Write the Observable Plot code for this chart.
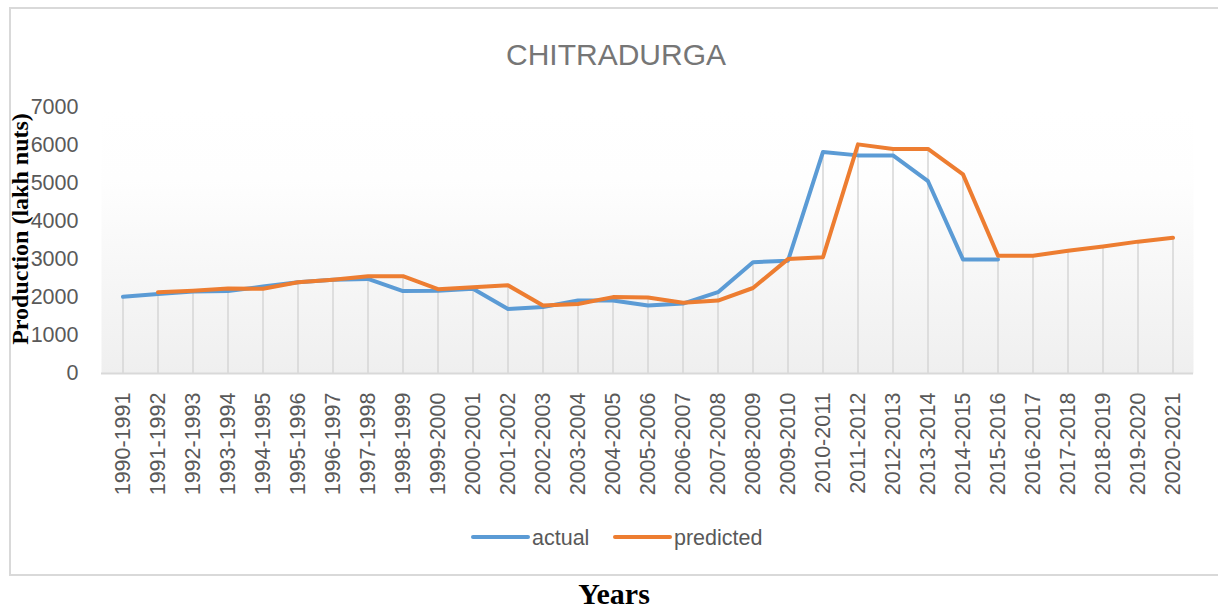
<!DOCTYPE html>
<html>
<head>
<meta charset="utf-8">
<script src="https://cdn.jsdelivr.net/npm/d3@7"></script>
<script src="https://cdn.jsdelivr.net/npm/@observablehq/plot@0.6"></script>
<style>
  html, body { margin: 0; padding: 0; background: #fff; }
  body { width: 1218px; height: 612px; overflow: hidden; position: relative; font-family: "Liberation Sans", Arial, sans-serif; }
  #frame { position: absolute; left: 9px; top: 7px; width: 1209px; height: 569px; box-sizing: border-box; border: 2px solid #d9d9d9; border-right: none; }
  #chart { position: absolute; left: 0; top: 0; }
  #overlay { position: absolute; left: 0; top: 0; pointer-events: none; }
</style>
</head>
<body>
<div id="frame"></div>
<div id="chart"></div>
<svg id="overlay" width="1218" height="612"></svg>
<script>
const categories = [
  "1990-1991","1991-1992","1992-1993","1993-1994","1994-1995","1995-1996","1996-1997","1997-1998",
  "1998-1999","1999-2000","2000-2001","2001-2002","2002-2003","2003-2004","2004-2005","2005-2006",
  "2006-2007","2007-2008","2008-2009","2009-2010","2010-2011","2011-2012","2012-2013","2013-2014",
  "2014-2015","2015-2016","2016-2017","2017-2018","2018-2019","2019-2020","2020-2021"
];
const actual = [
  2020, 2090, 2160, 2170, 2290, 2400, 2470, 2490, 2170, 2180, 2230, 1700, 1750, 1920, 1920, 1790,
  1840, 2140, 2930, 2970, 5830, 5740, 5740, 5060, 3000, 3000, null, null, null, null, null
];
const predicted = [
  null, 2140, 2180, 2240, 2230, 2400, 2470, 2560, 2560, 2220, 2270, 2320, 1790, 1830, 2010, 2000,
  1860, 1920, 2250, 3010, 3060, 6030, 5910, 5910, 5240, 3100, 3100, 3230, 3340, 3470, 3570
];
const yTicks = [0, 1000, 2000, 3000, 4000, 5000, 6000, 7000];
const seriesNames = ["actual", "predicted"];
const seriesColors = ["#5b9bd5", "#ed7d31"];
const titleText = "CHITRADURGA";
const yTitle = "Production (lakh nuts)";
const xTitle = "Years";

const rows = [];
categories.forEach((c, i) => {
  if (actual[i] != null) rows.push({cat: c, value: actual[i], series: "actual"});
});
categories.forEach((c, i) => {
  if (predicted[i] != null) rows.push({cat: c, value: predicted[i], series: "predicted"});
});
const drops = categories.map((c, i) => ({cat: c, top: Math.max(actual[i] ?? 0, predicted[i] ?? 0)}));

const chart = Plot.plot({
  width: 1218,
  height: 500,
  marginLeft: 101,
  marginRight: 25,
  marginTop: 107,
  marginBottom: 127,
  style: {background: "transparent", fontFamily: "'Liberation Sans', Arial, sans-serif"},
  x: {type: "band", domain: categories, padding: 0},
  y: {domain: [0, 7000]},
  color: {domain: seriesNames, range: seriesColors},
  marks: [
    Plot.frame({fill: "url(#plotGrad)", stroke: "none"}),
    Plot.ruleX(drops, {x: "cat", y1: 0, y2: "top", stroke: "#d6d6d6", strokeWidth: 1.5}),
    Plot.ruleY([0], {stroke: "#d9d9d9", strokeWidth: 2}),
    Plot.axisY({ticks: yTicks, tickFormat: d3.format("d"), tickSize: 0, tickPadding: 23, fontSize: 21.5, fill: "#595959", label: null}),
    Plot.axisX({tickRotate: -90, tickSize: 0, tickPadding: 19, fontSize: 21.5, fill: "#595959", label: null}),
    Plot.line(rows, {x: "cat", y: "value", z: "series", stroke: "series", strokeWidth: 4, strokeLinejoin: "round", strokeLinecap: "round"})
  ]
});

d3.select(chart).insert("defs", ":first-child").html(
  '<linearGradient id="plotGrad" x1="0" y1="0" x2="0" y2="1">' +
  '<stop offset="0" stop-color="#ffffff"/>' +
  '<stop offset="0.27" stop-color="#fefefe"/>' +
  '<stop offset="1" stop-color="#efefef"/>' +
  '</linearGradient>'
);
document.getElementById("chart").appendChild(chart);

const ov = d3.select("#overlay");
ov.append("text").attr("x", 616).attr("y", 65).attr("text-anchor", "middle")
  .attr("font-family", "'Liberation Sans', Arial, sans-serif").attr("font-size", 30)
  .attr("fill", "#767676").text(titleText);
ov.append("text").attr("transform", "translate(28,229) rotate(-90)").attr("text-anchor", "middle")
  .attr("font-family", "'Liberation Serif', 'Times New Roman', serif").attr("font-weight", "bold")
  .attr("font-size", 24).attr("fill", "#000").text(yTitle);
ov.append("text").attr("x", 614).attr("y", 604).attr("text-anchor", "middle")
  .attr("font-family", "'Liberation Serif', 'Times New Roman', serif").attr("font-weight", "bold")
  .attr("font-size", 30).attr("fill", "#000").text(xTitle);

const legendItems = [
  {name: seriesNames[0], color: seriesColors[0], x1: 473, x2: 528, tx: 532},
  {name: seriesNames[1], color: seriesColors[1], x1: 615, x2: 670, tx: 674}
];
legendItems.forEach(d => {
  ov.append("line").attr("x1", d.x1).attr("x2", d.x2).attr("y1", 537).attr("y2", 537)
    .attr("stroke", d.color).attr("stroke-width", 4).attr("stroke-linecap", "round");
  ov.append("text").attr("x", d.tx).attr("y", 545)
    .attr("font-family", "'Liberation Sans', Arial, sans-serif").attr("font-size", 21.5)
    .attr("fill", "#595959").text(d.name);
});
</script>
</body>
</html>
